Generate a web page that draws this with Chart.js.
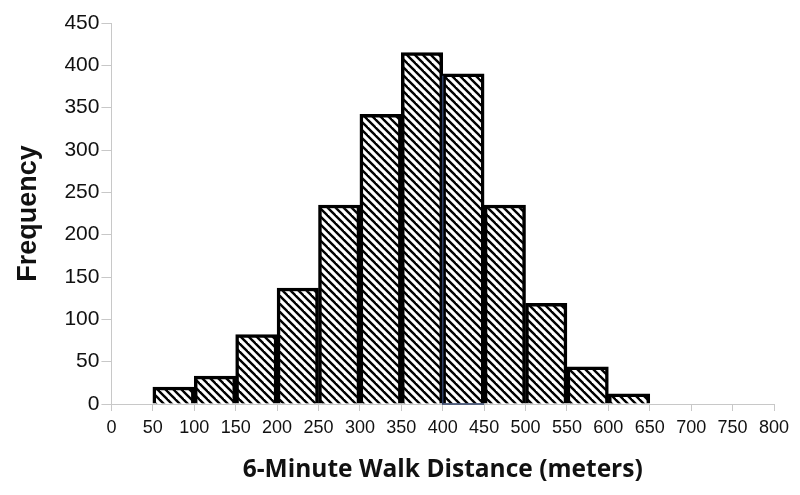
<!DOCTYPE html>
<html>
<head>
<meta charset="utf-8">
<script src="https://cdn.jsdelivr.net/npm/chart.js@4"></script>
<style>
  body { margin: 0; background: #fff; }
  #wrap { width: 800px; height: 495px; }
</style>
</head>
<body>
<div id="wrap"><canvas id="myChart"></canvas></div>
<script>
// histogram bins (lower edge of each 50 m bin) and counts
const binStarts = [50, 100, 150, 200, 250, 300, 350, 400, 450, 500, 550, 600];
const binWidth = 50;
const frequency = [20, 33, 82, 137, 235, 342, 415, 390, 235, 119, 44, 12];
const xTicks = [0, 800, 50];   // min, max, step
const yTicks = [0, 450, 50];

// diagonal hatch fill
function hatch() {
    const s = 8;
    const c = document.createElement('canvas');
    c.width = s; c.height = s;
    const g = c.getContext('2d');
    g.fillStyle = '#fff';
    g.fillRect(0, 0, s, s);
    g.strokeStyle = '#000';
    g.lineWidth = 2.4;
    for (let k = -1; k <= 1; k++) {
        g.beginPath();
        g.moveTo(k * s - 1, -1);
        g.lineTo(k * s + s + 1, s + 1);
        g.stroke();
    }
    return g.createPattern(c, 'repeat');
}

const points = binStarts.map((b, i) => ({ x: b + binWidth / 2, y: frequency[i] }));

// the dark blue edge on the left side of the 400-450 bin
const edgeLine = {
    id: 'edgeLine',
    afterDatasetsDraw(chart) {
        const xs = chart.scales.x, ys = chart.scales.y;
        const i = binStarts.indexOf(400);
        const px = xs.getPixelForValue(400);
        const g = chart.ctx;
        g.save();
        g.strokeStyle = '#2e3f66';
        g.lineWidth = 1.5;
        g.beginPath();
        g.moveTo(px, ys.getPixelForValue(frequency[i]) + 2);
        g.lineTo(px, ys.getPixelForValue(0));
        g.lineTo(xs.getPixelForValue(450), ys.getPixelForValue(0));
        g.stroke();
        g.restore();
    }
};

const data = {
    datasets: [{
        data: points,
        backgroundColor: hatch(),
        borderColor: '#000',
        borderWidth: 3.5,
        barPercentage: 1,
        categoryPercentage: 1,
        grouped: false
    }]
};

const config = {
    type: 'bar',
    data: data,
    plugins: [edgeLine],
    options: {
        responsive: true,
        maintainAspectRatio: false,
        animation: false,
        layout: { padding: { top: 23, right: 26, left: 12, bottom: 10 } },
        plugins: {
            legend: { display: false },
            tooltip: { enabled: false }
        },
        scales: {
            x: {
                type: 'linear',
                min: xTicks[0],
                max: xTicks[1],
                offset: false,
                grid: { offset: false, drawOnChartArea: false, color: '#c8c8c8', tickLength: 7 },
                border: { color: '#c8c8c8', width: 1 },
                ticks: {
                    stepSize: xTicks[2],
                    color: '#111',
                    font: { family: 'Liberation Sans', size: 18 },
                    maxRotation: 0,
                    autoSkip: false,
                    padding: 6
                },
                title: {
                    display: true,
                    text: '6-Minute Walk Distance (meters)',
                    color: '#111',
                    font: { family: 'Open Sans', size: 24.5, weight: 'bold' },
                    padding: { top: 11, bottom: 0 }
                }
            },
            y: {
                min: yTicks[0],
                max: yTicks[1],
                grid: { drawOnChartArea: false, color: '#c8c8c8', tickLength: 10 },
                border: { color: '#c8c8c8', width: 1 },
                ticks: {
                    stepSize: yTicks[2],
                    color: '#111',
                    font: { family: 'Liberation Sans', size: 21 },
                    padding: 2
                },
                title: {
                    display: true,
                    text: 'Frequency',
                    color: '#111',
                    font: { family: 'Liberation Sans', size: 27, weight: 'bold' },
                    padding: { top: 0, bottom: 18 }
                }
            }
        }
    }
};

const myChart = new Chart(document.getElementById('myChart'), config);
</script>
</body>
</html>
